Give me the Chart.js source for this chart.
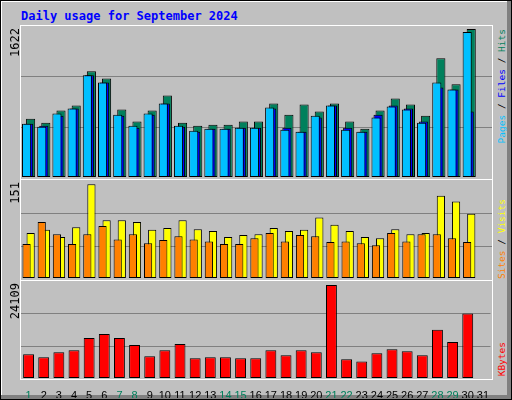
<!DOCTYPE html>
<html><head><meta charset="utf-8">
<script src="https://cdn.jsdelivr.net/npm/chart.js@4"></script>
<style>
body{margin:0;}
#wrap{position:relative;width:510px;height:398px;background:#c0c0c0;border:1px solid #000;overflow:hidden;}
#hl{position:absolute;left:0;top:0;width:505px;height:393px;border-left:1px solid #fff;border-top:1px solid #fff;}
#sh{position:absolute;right:0;top:0;width:4px;height:398px;background:#808080;}
#sb{position:absolute;left:0;bottom:0;width:510px;height:4px;background:#808080;}
.pn{position:absolute;left:20px;width:471px;}
canvas{display:block;}
.fr{position:absolute;left:19px;width:471px;border:1px solid #fff;}
#title{position:absolute;left:20px;top:8px;font:bold 12px "DejaVu Sans Mono",monospace;color:#0000ff;}
.vl{position:absolute;writing-mode:vertical-rl;transform:rotate(180deg);font:12px "DejaVu Sans Mono",monospace;white-space:nowrap;}
.vr{position:absolute;writing-mode:vertical-rl;transform:rotate(180deg);font:9.5px "DejaVu Sans Mono",monospace;white-space:nowrap;}
</style></head><body>
<div id="wrap">
<div id="hl"></div><div id="sh"></div><div id="sb"></div>
<div id="title">Daily usage for September 2024</div>
<div class="fr" style="top:24px;height:153px"></div>
<div class="fr" style="top:178px;height:100px"></div>
<div class="fr" style="top:279px;height:98px"></div>
<div class="pn" style="top:25px;height:151px"><canvas id="c1"></canvas></div>
<div class="pn" style="top:180px;height:97px"><canvas id="c2"></canvas></div>
<div class="pn" style="top:280px;height:117px"><canvas id="c3"></canvas></div>
<div class="vl" style="left:7px;top:27px;color:#000;">1622</div>
<div class="vl" style="left:7px;top:181px;color:#000;">151</div>
<div class="vl" style="left:7px;top:282px;color:#000;">24109</div>
<div class="vr" style="left:495px;top:28px;"><span style="color:#00c0ff">Pages</span> / <span style="color:#0000ff">Files</span> / <span style="color:#00805c">Hits</span></div>
<div class="vr" style="left:495px;top:198px;"><span style="color:#ff8000">Sites</span> / <span style="color:#ffff00">Visits</span></div>
<div class="vr" style="left:495px;top:341px;"><span style="color:#ff0000">KBytes</span></div>
</div>
<script>
const days=["1","2","3","4","5","6","7","8","9","10","11","12","13","14","15","16","17","18","19","20","21","22","23","24","25","26","27","28","29","30","31"];
const weekend=["1","7","8","14","15","21","22","28","29"];
const hits=[627,584,713,768,1135,1059,724,595,713,876,584,551,562,562,595,595,789,670,778,703,789,595,519,713,843,778,659,1276,995,1589,0];
const files=[573,551,659,735,1092,1016,659,530,670,789,541,486,519,519,530,530,735,530,486,638,768,530,486,670,768,735,595,962,940,703,0];
const pages=[573,541,681,735,1092,1016,670,551,681,789,551,497,519,519,530,530,746,508,486,659,768,508,486,638,757,724,584,1016,940,1557,0];
const visits=[70,75,64,79,146,90,90,87,75,78,90,76,73,64,67,68,78,73,75,94,83,73,64,62,76,68,70,128,119,100,0];
const sites=[53,87,68,53,68,81,60,68,54,59,65,60,57,53,53,62,70,57,67,65,56,57,54,51,70,57,68,68,62,56,0];
const kbytes=[5901,5142,6407,6913,9947,10959,9947,8177,5395,6913,8430,4889,5142,5142,4889,4889,6913,5648,6913,6407,23098,4637,4131,6154,7166,6660,5648,11971,8936,16017,0];
const maxes=[1622,151,24109];

const gridPlug={id:'g',beforeDatasetsDraw(ch){const y=ch.scales.y,a=ch.chartArea,c=ch.ctx,m=ch.options.plugins.g.max;
 c.save();c.strokeStyle='#808080';c.lineWidth=1;
 [m/3,2*m/3].forEach(v=>{const p=Math.round(y.getPixelForValue(v))+0.5;c.beginPath();c.moveTo(a.left,p);c.lineTo(a.right,p);c.stroke();});c.restore();}};
function ds(data,color,bp,cp,order){return {data,order,backgroundColor:color,borderColor:'#000',borderWidth:1,borderSkipped:false,barPercentage:bp,categoryPercentage:cp};}
function mk(id,sets,max,showX){
 const x={display:showX,grid:{display:false},border:{display:false},
    ticks:{padding:3,autoSkip:false,maxRotation:0,font:{family:'Liberation Sans',size:11},
     color:c=>weekend.includes(days[c.index])?'#00805c':'#000'}};
 if(showX) x.afterFit=s=>{s.height=20;};
 return new Chart(document.getElementById(id),{type:'bar',data:{labels:days,datasets:sets},
 plugins:[gridPlug],
 options:{responsive:true,maintainAspectRatio:false,animation:false,events:[],layout:{padding:0},
  plugins:{legend:{display:false},tooltip:{enabled:false},g:{max}},
  scales:{y:{display:false,min:0,max},x}}});
}
mk('c1',[ds(hits,'#00805c',4.5,0.4,3),ds(files,'#0000ff',4.5,0.4,2),ds(pages,'#00c0ff',4.5,0.4,1)],maxes[0],false);
mk('c2',[ds(visits,'#ffff00',2,0.54,2),ds(sites,'#ff8000',2,0.54,1)],maxes[1],false);
mk('c3',[ds(kbytes,'#ff0000',0.72,1,1)],maxes[2],true);
</script></body></html>
